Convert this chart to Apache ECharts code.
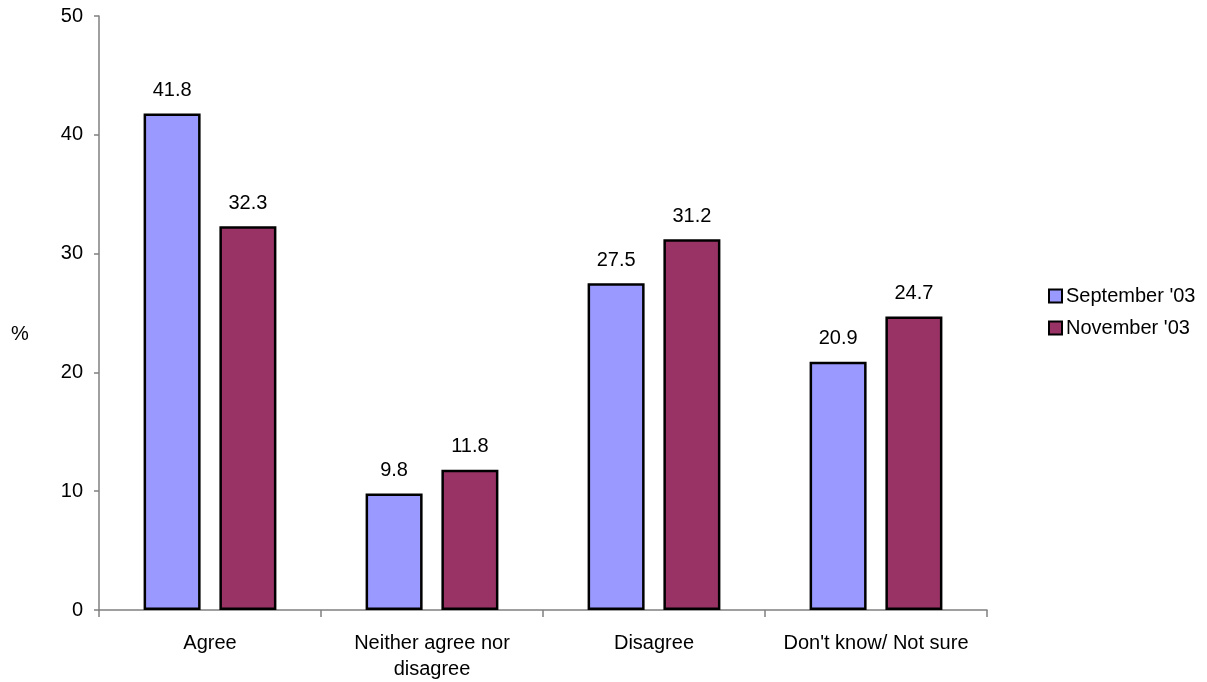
<!DOCTYPE html>
<html>
<head>
<meta charset="utf-8">
<script src="https://cdn.jsdelivr.net/npm/echarts@6/dist/echarts.min.js"></script>
<style>
html,body{margin:0;padding:0;background:#fff;}
#chart{width:1207px;height:682px;}
</style>
</head>
<body>
<div id="chart"></div>
<script>
var categories = ['Agree', 'Neither agree nor\ndisagree', 'Disagree', "Don't know/ Not sure"];
var seriesNames = ["September '03", "November '03"];
var september = [41.8, 9.8, 27.5, 20.9];
var november = [32.3, 11.8, 31.2, 24.7];
var yTicks = { min: 0, max: 50, interval: 10 };

var font = 'Liberation Sans, Arial, sans-serif';
var chart = echarts.init(document.getElementById('chart'));
function barSeries(name, data, color) {
  return {
    name: name,
    type: 'bar',
    data: data,
    barWidth: 57,
    barGap: '33%',
    itemStyle: { color: color, borderColor: '#000', borderWidth: 2.5 },
    label: {
      show: true, position: 'top', distance: 13,
      color: '#000', fontFamily: font, fontSize: 20
    },
    emphasis: { disabled: true }
  };
}
chart.setOption({
  animation: false,
  backgroundColor: '#fff',
  grid: { left: 99, top: 16, width: 888, height: 597, containLabel: false },
  legend: {
    orient: 'vertical',
    left: 1043, top: 281,
    itemWidth: 13, itemHeight: 13, itemGap: 12,
    icon: 'rect',
    textStyle: { color: '#000', fontFamily: font, fontSize: 20, padding: [0, 0, 0, -1] },
    data: seriesNames
  },
  xAxis: {
    type: 'category',
    data: categories,
    axisLine: { lineStyle: { color: '#808080', width: 1.5 } },
    axisTick: { show: true, length: 7, lineStyle: { color: '#808080', width: 1.5 } },
    axisLabel: { color: '#000', fontFamily: font, fontSize: 20, margin: 20, lineHeight: 26, interval: 0 }
  },
  yAxis: {
    type: 'value',
    min: yTicks.min, max: yTicks.max, interval: yTicks.interval,
    axisLine: { show: true, lineStyle: { color: '#808080', width: 1.5 } },
    axisTick: { show: true, length: 5, lineStyle: { color: '#808080', width: 1.5 } },
    splitLine: { show: false },
    axisLabel: { color: '#000', fontFamily: font, fontSize: 20, margin: 16 }
  },
  graphic: [{
    type: 'text', left: 11, top: 324,
    style: { text: '%', fill: '#000', font: '20px ' + font }
  }],
  series: [
    barSeries(seriesNames[0], september, '#9999FF'),
    barSeries(seriesNames[1], november, '#993366')
  ]
});
</script>
</body>
</html>
